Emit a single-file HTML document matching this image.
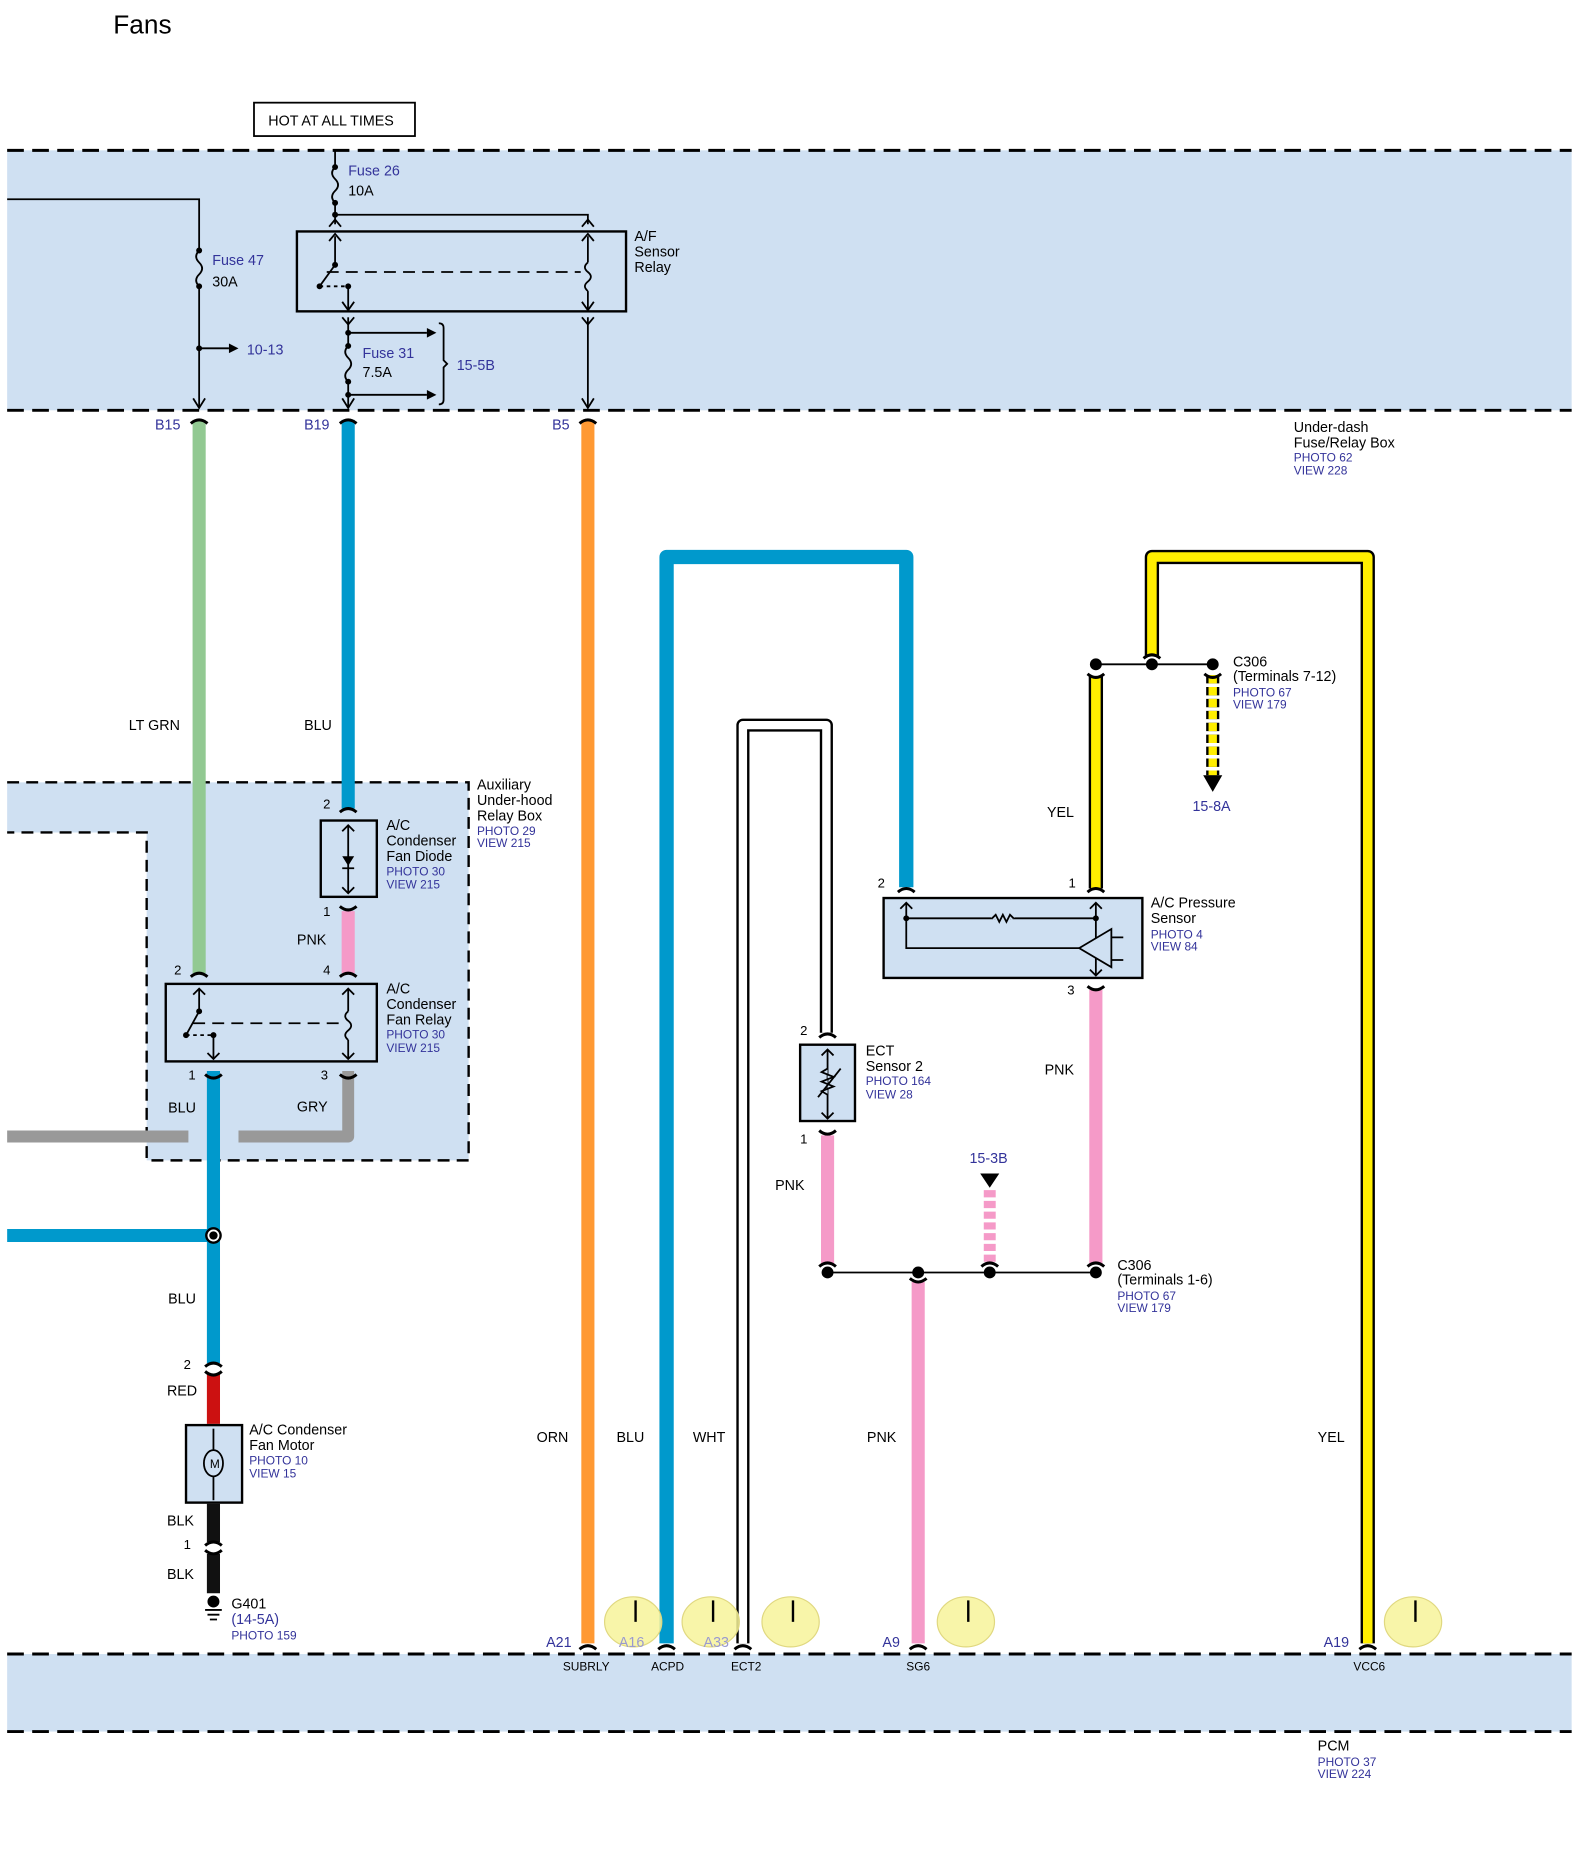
<!DOCTYPE html>
<html><head><meta charset="utf-8"><style>html,body{margin:0;padding:0;background:#fff}svg{display:block}</style></head>
<body>
<svg width="1580" height="1870" viewBox="0 0 1325 1568" xmlns="http://www.w3.org/2000/svg" font-family="Liberation Sans, sans-serif" font-size="12">
<rect width="1325" height="1568" fill="#fff"/>
<text x="95" y="28" font-size="22">Fans</text>
<rect x="213" y="86" width="135" height="28" fill="#fff" stroke="#000" stroke-width="1.5"/>
<text x="225" y="105" font-size="12">HOT AT ALL TIMES</text>

<!-- top band -->
<rect x="6" y="126" width="1312" height="218" fill="#cfe0f2"/>
<g stroke="#000" stroke-width="2.5" stroke-dasharray="14,7">
<line x1="6" y1="126" x2="1318" y2="126"/><line x1="6" y1="344" x2="1318" y2="344"/>
</g>
<g stroke="#000" stroke-width="1.5" fill="none">
<polyline points="6,167 167,167 167,210"/>
<path d="M167,210 q-5,5 0,10 q5,5 0,10 q-5,5 0,10"/>
<line x1="167" y1="240" x2="167" y2="342"/>
<line x1="167" y1="292" x2="192" y2="292"/>
<line x1="281" y1="126" x2="281" y2="140"/>
<path d="M281,140 q-5,5 0,10 q5,5 0,10 q-5,5 0,10"/>
<line x1="281" y1="170" x2="281" y2="188"/>
<polyline points="281,180 493,180 493,188"/>
<rect x="249" y="194" width="276" height="67" stroke-width="2"/>
<line x1="281" y1="198" x2="281" y2="222"/><line x1="281" y1="222" x2="268" y2="240"/>
<line x1="292" y1="240" x2="292" y2="260"/>
<path d="M268,240 L292,240" stroke-dasharray="3,3"/>
<path d="M274,228 L487,228" stroke-dasharray="10,6"/>
<line x1="493" y1="198" x2="493" y2="220"/>
<path d="M493,220 q-5,4 0,8 q5,4 0,8 q-5,4 0,8"/>
<line x1="493" y1="244" x2="493" y2="260"/>
<line x1="493" y1="266" x2="493" y2="342"/>
<line x1="292" y1="266" x2="292" y2="290"/>
<path d="M292,290 q-5,5 0,10 q5,5 0,10 q-5,5 0,10"/>
<line x1="292" y1="320" x2="292" y2="342"/>
<line x1="292" y1="279" x2="358" y2="279"/><line x1="292" y1="331" x2="358" y2="331"/>
<path d="M368,271 q4,0 4,4 v27 l3,3 l-3,3 v27 q0,4 -4,4"/>
<path d="M162,334 l5,8 l5,-8 M276,190 l5,-6 l5,6 M488,190 l5,-6 l5,6 M276,202 l5,-6 l5,6 M488,202 l5,-6 l5,6 M287,253 l5,7 l5,-7 M488,253 l5,7 l5,-7 M287,266 l5,6 l5,-6 M488,266 l5,6 l5,-6 M287,334 l5,8 l5,-8 M488,334 l5,8 l5,-8"/>
</g>
<g fill="#000">
<circle cx="167" cy="210" r="2.5"/><circle cx="167" cy="240" r="2.5"/><circle cx="167" cy="292" r="2.5"/>
<circle cx="281" cy="140" r="2.5"/><circle cx="281" cy="170" r="2.5"/><circle cx="281" cy="180" r="2.5"/>
<circle cx="281" cy="222" r="2.5"/><circle cx="268" cy="240" r="2.5"/><circle cx="292" cy="240" r="2.5"/>
<circle cx="292" cy="279" r="2.5"/><circle cx="292" cy="290" r="2.5"/><circle cx="292" cy="320" r="2.5"/><circle cx="292" cy="331" r="2.5"/>
<path d="M192,288 l8,4 l-8,4z M358,275 l8,4 l-8,4z M358,327 l8,4 l-8,4z"/>
</g>
<g fill="#33339a">
<text x="178" y="222">Fuse 47</text><text x="207" y="297">10-13</text><text x="292" y="147">Fuse 26</text>
<text x="304" y="300">Fuse 31</text><text x="383" y="310">15-5B</text>
<text x="130" y="360">B15</text><text x="255" y="360">B19</text><text x="463" y="360">B5</text>
</g>
<text x="178" y="240">30A</text><text x="292" y="164">10A</text><text x="304" y="316">7.5A</text>
<text x="532" y="202">A/F</text><text x="532" y="215">Sensor</text><text x="532" y="228">Relay</text>
<text x="1085" y="362">Under-dash</text><text x="1085" y="375">Fuse/Relay Box</text>
<g fill="#33339a" font-size="10"><text x="1085" y="387">PHOTO 62</text><text x="1085" y="398">VIEW 228</text></g>

<!-- aux box -->
<path d="M6,656 H393 V973 H123 V698 H6 Z" fill="#cfe0f2"/>
<path d="M6,656 H393 V973 H123 V698 H6" fill="none" stroke="#000" stroke-width="2" stroke-dasharray="10,6"/>
<text x="400" y="662">Auxiliary</text><text x="400" y="675">Under-hood</text><text x="400" y="688">Relay Box</text>
<g fill="#33339a" font-size="10"><text x="400" y="700">PHOTO 29</text><text x="400" y="710">VIEW 215</text></g>

<!-- wires -->
<g fill="none" stroke-linejoin="round">
<line x1="167" y1="352" x2="167" y2="816" stroke="#92c992" stroke-width="11"/>
<line x1="292" y1="352" x2="292" y2="678" stroke="#0099cc" stroke-width="11"/>
<line x1="292" y1="764" x2="292" y2="816" stroke="#f59ac8" stroke-width="11"/>
<line x1="493" y1="352" x2="493" y2="1378" stroke="#ff9933" stroke-width="11"/>
<polyline points="292,898 292,953 200,953" stroke="#999" stroke-width="10"/>
<line x1="158" y1="953" x2="6" y2="953" stroke="#999" stroke-width="10"/>
<line x1="179" y1="898" x2="179" y2="1143" stroke="#0099cc" stroke-width="11"/>
<line x1="6" y1="1036" x2="179" y2="1036" stroke="#0099cc" stroke-width="11"/>
<line x1="179" y1="1152" x2="179" y2="1194" stroke="#cc1111" stroke-width="11"/>
<line x1="179" y1="1261" x2="179" y2="1293" stroke="#111" stroke-width="11"/>
<line x1="179" y1="1303" x2="179" y2="1336" stroke="#111" stroke-width="11"/>
<polyline points="559,1378 559,467 760,467 760,744" stroke="#0099cc" stroke-width="12"/>
<polyline points="623,1378 623,608 693,608 693,866" stroke="#000" stroke-width="11"/>
<polyline points="623,1378 623,608 693,608 693,866" stroke="#fff" stroke-width="7"/>
<line x1="694" y1="952" x2="694" y2="1060" stroke="#f59ac8" stroke-width="11"/>
<line x1="770" y1="1075" x2="770" y2="1378" stroke="#f59ac8" stroke-width="11"/>
<line x1="919" y1="830" x2="919" y2="1060" stroke="#f59ac8" stroke-width="11"/>
<line x1="830" y1="998" x2="830" y2="1060" stroke="#f59ac8" stroke-width="10" stroke-dasharray="6,3"/>
<line x1="919" y1="567" x2="919" y2="745" stroke="#000" stroke-width="12"/>
<line x1="919" y1="567" x2="919" y2="745" stroke="#ffee00" stroke-width="8"/>
<polyline points="966,550 966,467 1147,467 1147,1378" stroke="#000" stroke-width="12"/>
<polyline points="966,550 966,467 1147,467 1147,1378" stroke="#ffee00" stroke-width="8"/>
<line x1="1017" y1="566" x2="1017" y2="650" stroke="#000" stroke-width="11" stroke-dasharray="7,3"/>
<line x1="1017" y1="566" x2="1017" y2="650" stroke="#ffee00" stroke-width="7" stroke-dasharray="7,3"/>
</g>
<circle cx="179" cy="1036" r="6" fill="#fff" stroke="#000" stroke-width="2"/>
<circle cx="179" cy="1036" r="3.5" fill="#000"/>

<!-- components -->
<g stroke="#000" stroke-width="2" fill="#cfe0f2">
<rect x="269" y="688" width="47" height="64"/>
<rect x="139" y="825" width="177" height="65"/>
<rect x="156" y="1195" width="47" height="65"/>
<rect x="671" y="876" width="46" height="64"/>
<rect x="741" y="753" width="217" height="67"/>
</g>
<g stroke="#000" stroke-width="1.5" fill="none">
<line x1="292" y1="692" x2="292" y2="749"/><path d="M287,697 l5,-5 l5,5 M287,744 l5,5 l5,-5 M287,728 h10"/>
<line x1="167" y1="829" x2="167" y2="848"/><line x1="167" y1="848" x2="156" y2="868"/>
<line x1="179" y1="868" x2="179" y2="888"/><path d="M156,868 H179" stroke-dasharray="3,3"/>
<path d="M162,858 H286" stroke-dasharray="10,6"/>
<line x1="292" y1="829" x2="292" y2="848"/><path d="M292,848 q-5,4 0,8 q5,4 0,8 q-5,4 0,8"/><line x1="292" y1="872" x2="292" y2="888"/>
<path d="M162,834 l5,-5 l5,5 M174,883 l5,5 l5,-5 M287,834 l5,-5 l5,5 M287,883 l5,5 l5,-5"/>
<line x1="179" y1="1198" x2="179" y2="1258"/>
<ellipse cx="179" cy="1227" rx="8" ry="11" fill="#cfe0f2"/>
<line x1="694" y1="880" x2="694" y2="938"/><path d="M689,885 l5,-5 l5,5 M689,933 l5,5 l5,-5"/>
<path d="M694,896 l-5,3 l10,4 l-10,4 l10,4 l-10,4 l5,3" fill="#cfe0f2"/><line x1="686" y1="920" x2="705" y2="896"/>
<polyline points="760,757 760,795 905,795"/><line x1="760" y1="770" x2="919" y2="770"/>
<line x1="919" y1="757" x2="919" y2="818"/>
<path d="M832,770 l3,-3 l3,6 l3,-6 l3,6 l3,-6 l3,3" stroke="#cfe0f2" stroke-width="4"/>
<path d="M832,770 l3,-3 l3,6 l3,-6 l3,6 l3,-6 l3,3"/>
<path d="M905,795 L932,779 V811 Z" fill="#cfe0f2"/><path d="M932,786 h10 M932,805 h10"/>
<path d="M755,762 l5,-5 l5,5 M914,762 l5,-5 l5,5 M914,813 l5,5 l5,-5"/>
<line x1="694" y1="1067" x2="919" y2="1067"/><line x1="919" y1="557" x2="1017" y2="557"/>
</g>
<text x="176" y="1231" font-size="10">M</text>
<g fill="#000"><circle cx="167" cy="848" r="2.5"/><circle cx="156" cy="868" r="2.5"/><circle cx="179" cy="868" r="2.5"/>
<path d="M287,718 h10 l-5,8z M1009,650 h16 l-8,14z M822,984 h16 l-8,12z"/>
<circle cx="760" cy="770" r="2.5"/><circle cx="919" cy="770" r="2.5"/>
<circle cx="694" cy="1067" r="5"/><circle cx="770" cy="1067" r="5"/><circle cx="830" cy="1067" r="5"/><circle cx="919" cy="1067" r="5"/>
<circle cx="919" cy="557" r="5"/><circle cx="966" cy="557" r="5"/><circle cx="1017" cy="557" r="5"/>
<circle cx="179" cy="1343" r="5"/><path d="M172,1350 h14 M174,1354 h10 M176,1358 h6" stroke="#000" stroke-width="1.5"/>
</g>
<!-- connector cups -->
<g stroke="#000" stroke-width="2.5" fill="none">
<path d="M160,355 q7,-6 14,0 M285,355 q7,-6 14,0 M486,355 q7,-6 14,0 M285,681 q7,-6 14,0 M285,760 q7,6 14,0 M160,819 q7,-6 14,0 M285,819 q7,-6 14,0 M172,901 q7,6 14,0 M285,901 q7,6 14,0 M172,1146 q7,-6 14,0 M172,1150 q7,6 14,0 M172,1296 q7,-6 14,0 M172,1300 q7,6 14,0"/>
<path d="M753,748 q7,-6 14,0 M912,748 q7,-6 14,0 M912,827 q7,6 14,0 M912,565 q7,6 14,0 M959,552 q7,-6 14,0 M1010,565 q7,6 14,0 M687,870 q7,-6 14,0 M687,948 q7,6 14,0 M687,1062 q7,-6 14,0 M912,1062 q7,-6 14,0 M823,1062 q7,-6 14,0 M763,1072 q7,6 14,0"/>
<path d="M486,1383 q7,-6 14,0 M552,1383 q7,-6 14,0 M616,1383 q7,-6 14,0 M763,1383 q7,-6 14,0 M1140,1383 q7,-6 14,0"/>
</g>

<!-- labels -->
<g font-size="12">
<text x="108" y="612">LT GRN</text><text x="255" y="612">BLU</text><text x="249" y="792">PNK</text>
<text x="141" y="933">BLU</text><text x="249" y="932">GRY</text><text x="141" y="1093">BLU</text>
<text x="140" y="1170">RED</text><text x="140" y="1279">BLK</text><text x="140" y="1324">BLK</text>
<text x="450" y="1209">ORN</text><text x="517" y="1209">BLU</text><text x="581" y="1209">WHT</text>
<text x="727" y="1209">PNK</text><text x="1105" y="1209">YEL</text><text x="878" y="685">YEL</text>
<text x="876" y="901">PNK</text><text x="650" y="998">PNK</text>
</g>
<g font-size="11">
<text x="271" y="678">2</text><text x="271" y="768">1</text><text x="146" y="817">2</text><text x="271" y="817">4</text>
<text x="158" y="905">1</text><text x="269" y="905">3</text><text x="154" y="1148">2</text><text x="154" y="1299">1</text>
<text x="736" y="744">2</text><text x="896" y="744">1</text><text x="895" y="834">3</text>
<text x="671" y="868">2</text><text x="671" y="959">1</text>
</g>
<g font-size="12">
<text x="324" y="696">A/C</text><text x="324" y="709">Condenser</text><text x="324" y="722">Fan Diode</text>
<text x="324" y="833">A/C</text><text x="324" y="846">Condenser</text><text x="324" y="859">Fan Relay</text>
<text x="209" y="1203">A/C Condenser</text><text x="209" y="1216">Fan Motor</text>
<text x="194" y="1349">G401</text>
<text x="726" y="885">ECT</text><text x="726" y="898">Sensor 2</text>
<text x="965" y="761">A/C Pressure</text><text x="965" y="774">Sensor</text>
<text x="1034" y="559">C306</text><text x="1034" y="571">(Terminals 7-12)</text>
<text x="937" y="1065">C306</text><text x="937" y="1077">(Terminals 1-6)</text>
<text x="1105" y="1468">PCM</text>
</g>
<g fill="#33339a" font-size="10">
<text x="324" y="734">PHOTO 30</text><text x="324" y="745">VIEW 215</text>
<text x="324" y="871">PHOTO 30</text><text x="324" y="882">VIEW 215</text>
<text x="209" y="1228">PHOTO 10</text><text x="209" y="1239">VIEW 15</text>
<text x="194" y="1375">PHOTO 159</text>
<text x="726" y="910">PHOTO 164</text><text x="726" y="921">VIEW 28</text>
<text x="965" y="787">PHOTO 4</text><text x="965" y="797">VIEW 84</text>
<text x="1034" y="584">PHOTO 67</text><text x="1034" y="594">VIEW 179</text>
<text x="937" y="1090">PHOTO 67</text><text x="937" y="1100">VIEW 179</text>
<text x="1105" y="1481">PHOTO 37</text><text x="1105" y="1491">VIEW 224</text>
</g>
<g fill="#33339a" font-size="12">
<text x="194" y="1362">(14-5A)</text><text x="1000" y="680">15-8A</text><text x="813" y="975">15-3B</text>
<text x="458" y="1381">A21</text><text x="740" y="1381">A9</text><text x="1110" y="1381">A19</text>
</g>

<!-- bottom band -->
<rect x="6" y="1387" width="1312" height="65" fill="#cfe0f2"/>
<g stroke="#000" stroke-width="2.5" stroke-dasharray="14,7">
<line x1="6" y1="1387" x2="1318" y2="1387"/><line x1="6" y1="1452" x2="1318" y2="1452"/>
</g>
<g fill="#f7f39a" fill-opacity="0.85" stroke="#e0d880" stroke-width="1">
<ellipse cx="531" cy="1360" rx="24" ry="21"/><ellipse cx="596" cy="1360" rx="24" ry="21"/>
<ellipse cx="663" cy="1360" rx="24" ry="21"/><ellipse cx="810" cy="1360" rx="24" ry="21"/>
<ellipse cx="1185" cy="1360" rx="24" ry="21"/>
</g>
<g stroke="#000" stroke-width="2">
<line x1="533" y1="1342" x2="533" y2="1360"/><line x1="598" y1="1342" x2="598" y2="1360"/>
<line x1="665" y1="1342" x2="665" y2="1360"/><line x1="812" y1="1342" x2="812" y2="1360"/>
<line x1="1187" y1="1342" x2="1187" y2="1360"/>
</g>
<g fill="#9a9ad0" font-size="12"><text x="519" y="1381">A16</text><text x="590" y="1381">A33</text></g>
<g font-size="10">
<text x="472" y="1401">SUBRLY</text><text x="546" y="1401">ACPD</text><text x="613" y="1401">ECT2</text>
<text x="760" y="1401">SG6</text><text x="1135" y="1401">VCC6</text>
</g>
</svg>
</body></html>
